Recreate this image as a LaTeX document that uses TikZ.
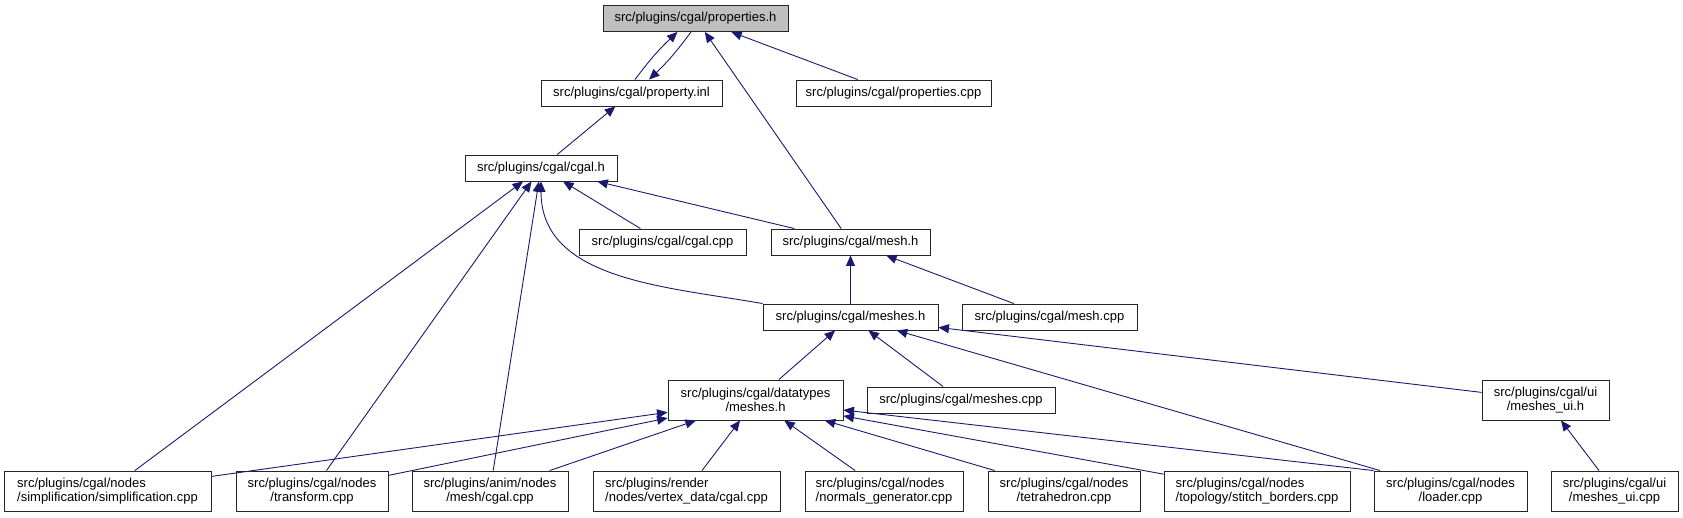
\documentclass[tikz,border=0pt]{standalone}
\usepackage{fontspec}
\setmainfont{Liberation Sans}
\usetikzlibrary{arrows.meta,calc}
\definecolor{navyc}{HTML}{191970}
\definecolor{graybg}{HTML}{BFBFBF}
\newsavebox\lnA
\newsavebox\lnB
\newlength\lnW
\newcommand\twoline[2]{%
  \sbox\lnA{#1}\sbox\lnB{#2}%
  \setlength\lnW{\wd\lnA}\ifdim\wd\lnB>\lnW\setlength\lnW{\wd\lnB}\fi
  \vbox{\hbox to\lnW{\usebox\lnA\hfil}\hbox to\lnW{\hfil\usebox\lnB\hfil}}}
\tikzset{
  box/.style={draw=black!85, line width=0.9pt, fill=white, inner sep=0pt,
    minimum height=26pt, font=\fontsize{13}{14}\selectfont},
  tall/.style={minimum height=40pt},
  dep/.style={draw=navyc, line width=0.9pt, {Triangle[length=10.5pt,width=9pt]}-}
}
\begin{document}
\begin{tikzpicture}[x=1pt,y=-1pt]
\useasboundingbox (0,0) rectangle (1683,517);
% row 0
\node[box, fill=graybg, minimum width=185pt] (props_h) at (695.5,18.5) {src/plugins/cgal/properties.h};
% row 1
\node[box, minimum width=181pt] (prop_inl) at (631.5,93) {src/plugins/cgal/property.inl};
\node[box, minimum width=195pt] (props_cpp) at (893.5,93) {src/plugins/cgal/properties.cpp};
% row 2
\node[box, minimum width=152pt] (cgal_h) at (541,168) {src/plugins/cgal/cgal.h};
% row 3
\node[box, minimum width=167pt] (cgal_cpp) at (662.5,242) {src/plugins/cgal/cgal.cpp};
\node[box, minimum width=159pt] (mesh_h) at (850.5,242) {src/plugins/cgal/mesh.h};
% row 4
\node[box, minimum width=175pt] (meshes_h) at (850.5,317) {src/plugins/cgal/meshes.h};
\node[box, minimum width=175pt] (mesh_cpp) at (1049.5,317) {src/plugins/cgal/mesh.cpp};
% row 5
\node[box, tall, minimum width=175pt] (dt) at (755.5,400) {\twoline{src/plugins/cgal/datatypes}{/meshes.h}};
\node[box, minimum width=188pt] (meshes_cpp) at (961,400) {src/plugins/cgal/meshes.cpp};
\node[box, tall, minimum width=127pt] (meshes_ui_h) at (1545.5,400) {\twoline{src/plugins/cgal/ui}{/meshes\_ui.h}};
% row 6
\node[box, tall, minimum width=207pt] (simpl) at (107.5,491) {\twoline{src/plugins/cgal/nodes}{/simplification/simplification.cpp}};
\node[box, tall, minimum width=152pt] (transform) at (312,491) {\twoline{src/plugins/cgal/nodes}{/transform.cpp}};
\node[box, tall, minimum width=156pt] (anim) at (490,491) {\twoline{src/plugins/anim/nodes}{/mesh/cgal.cpp}};
\node[box, tall, minimum width=187pt] (render) at (686.5,491) {\twoline{src/plugins/render}{/nodes/vertex\_data/cgal.cpp}};
\node[box, tall, minimum width=158pt] (normals) at (884,491) {\twoline{src/plugins/cgal/nodes}{/normals\_generator.cpp}};
\node[box, tall, minimum width=152pt] (tetra) at (1064,491) {\twoline{src/plugins/cgal/nodes}{/tetrahedron.cpp}};
\node[box, tall, minimum width=186pt] (stitch) at (1257,491) {\twoline{src/plugins/cgal/nodes}{/topology/stitch\_borders.cpp}};
\node[box, tall, minimum width=153pt] (loader) at (1450.5,491) {\twoline{src/plugins/cgal/nodes}{/loader.cpp}};
\node[box, tall, minimum width=127pt] (meshes_ui_cpp) at (1614.5,491) {\twoline{src/plugins/cgal/ui}{/meshes\_ui.cpp}};
% edges
\draw[dep] ([xshift=-18pt]props_h.south) to[bend right=5] ([xshift=3.5pt]prop_inl.north);
\draw[dep] ([xshift=17.5pt]prop_inl.north) to[bend right=5] ([xshift=-4.5pt]props_h.south);
\draw[dep] (props_h) -- (mesh_h);
\draw[dep] (props_h) -- (props_cpp);
\draw[dep] (prop_inl) -- (cgal_h);
\draw[dep] (cgal_h) -- (simpl);
\draw[dep] (cgal_h) -- (transform);
\draw[dep] (cgal_h) -- (anim);
\draw[dep] (cgal_h.south) to[out=-90,in=170] (meshes_h.north west);
\draw[dep] (cgal_h) -- (cgal_cpp);
\draw[dep] (cgal_h) -- (mesh_h);
\draw[dep] (mesh_h) -- (meshes_h);
\draw[dep] (mesh_h) -- (mesh_cpp);
\draw[dep] (meshes_h) -- (dt);
\draw[dep] (meshes_h) -- (meshes_cpp);
\draw[dep] (meshes_h) -- (loader);
\draw[dep] (meshes_h) -- (meshes_ui_h);
\draw[dep] (meshes_ui_h) -- (meshes_ui_cpp);
\draw[dep] (dt) -- (simpl);
\draw[dep] (dt) -- (transform);
\draw[dep] (dt) -- (anim);
\draw[dep] (dt) -- (render);
\draw[dep] (dt) -- (normals);
\draw[dep] (dt) -- (tetra);
\draw[dep] (dt) -- (stitch);
\draw[dep] (dt) -- (loader.north west);
\end{tikzpicture}
\end{document}
